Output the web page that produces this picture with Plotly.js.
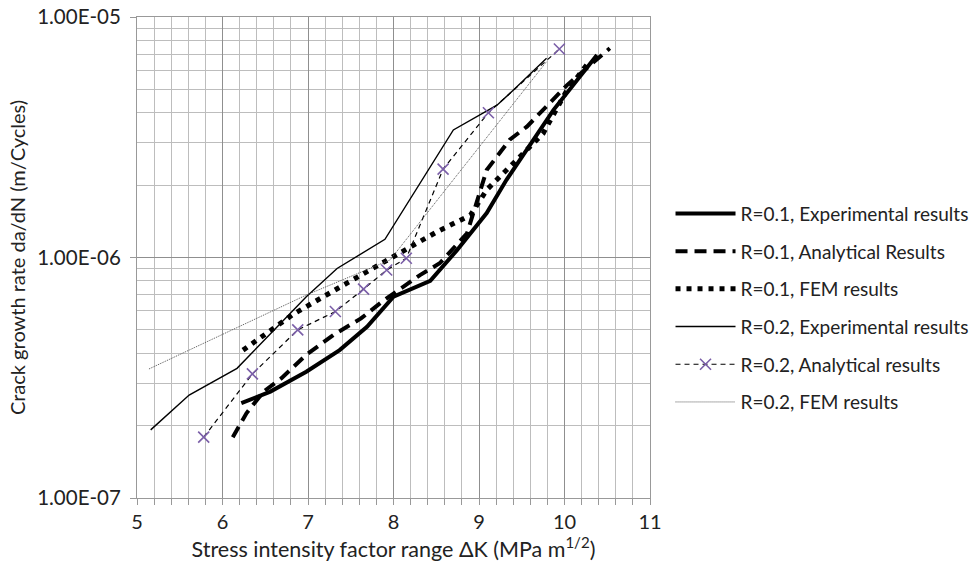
<!DOCTYPE html>
<html>
<head>
<meta charset="utf-8">
<script src="https://cdn.plot.ly/plotly-3.0.1.min.js"></script>
<style>html,body{margin:0;padding:0;background:#fff;}#chart{width:978px;height:569px;}</style>
</head>
<body>
<div id="chart"></div>
<script>
// R=0.1 Experimental results
const r1ExpX = [6.22, 6.56, 6.98, 7.37, 7.69, 8.0, 8.43, 8.74, 9.09, 9.32, 9.87, 10.38];
const r1ExpY = [2.48e-7, 2.77e-7, 3.35e-7, 4.12e-7, 5.15e-7, 6.87e-7, 8.0e-7, 1.07e-6, 1.53e-6, 2.10e-6, 4.1e-6, 6.95e-6];
// R=0.1 Analytical Results
const r1AnaX = [6.12, 6.28, 6.48, 6.69, 6.98, 7.30, 7.62, 7.89, 8.31, 8.54, 8.86, 9.09, 9.36, 9.56, 10.03, 10.53];
const r1AnaY = [1.79e-7, 2.25e-7, 2.77e-7, 3.15e-7, 3.94e-7, 4.77e-7, 5.58e-7, 6.65e-7, 8.45e-7, 9.46e-7, 1.26e-6, 2.31e-6, 3.09e-6, 3.50e-6, 5.21e-6, 7.41e-6];
// R=0.1 FEM results
const r1FemX = [6.24, 6.83, 7.47, 8.11, 8.51, 8.90, 9.09, 9.75, 10.02, 10.30];
const r1FemY = [4.12e-7, 5.82e-7, 7.88e-7, 1.06e-6, 1.28e-6, 1.50e-6, 1.91e-6, 3.28e-6, 4.9e-6, 6.6e-6];
// R=0.2 Experimental results
const r2ExpX = [5.16, 5.61, 6.17, 6.98, 7.34, 7.90, 8.70, 9.21, 9.40, 9.79];
const r2ExpY = [1.92e-7, 2.68e-7, 3.46e-7, 6.87e-7, 9.0e-7, 1.19e-6, 3.39e-6, 4.3e-6, 4.96e-6, 6.73e-6];
// R=0.2 Analytical results
const r2AnaX = [5.78, 6.35, 6.88, 7.32, 7.65, 7.92, 8.15, 8.58, 9.11, 9.94];
const r2AnaY = [1.79e-7, 3.28e-7, 5.0e-7, 5.96e-7, 7.39e-7, 8.87e-7, 9.93e-7, 2.33e-6, 4.0e-6, 7.36e-6];
// R=0.2 FEM results
const r2FemX = [5.14, 6.98, 7.96, 9.79];
const r2FemY = [3.44e-7, 6.98e-7, 9.77e-7, 6.52e-6];

const yTickVals = [1e-7, 1e-6, 1e-5];
const yTickText = ["1.00E-07", "1.00E-06", "1.00E-05"];
const xTickVals = [5, 6, 7, 8, 9, 10, 11];

const FONT = "Lato, 'Open Sans', sans-serif";

const traces = [
  {x: r1ExpX, y: r1ExpY, name: "R=0.1, Experimental results", mode: "lines",
   line: {color: "#000", width: 4}, legendgroup: "a"},
  {x: r1AnaX, y: r1AnaY, name: "R=0.1, Analytical Results", mode: "lines",
   line: {color: "#000", width: 4, dash: "12px,7px"}, legendgroup: "b"},
  {x: r1FemX, y: r1FemY, name: "R=0.1, FEM results", mode: "lines",
   line: {color: "#000", width: 5, dash: "5px,6px"}, legendgroup: "c"},
  {x: r2ExpX, y: r2ExpY, name: "R=0.2, Experimental results", mode: "lines",
   line: {color: "#000", width: 1.4}, legendgroup: "d"},
  {x: r2AnaX, y: r2AnaY, name: "R=0.2, Analytical results", mode: "lines+markers",
   line: {color: "#000", width: 1.2, dash: "5px,4px"},
   marker: {symbol: "x-thin", size: 11, color: "#7b5fa8", line: {width: 1.6, color: "#7b5fa8"}}, legendgroup: "e"},
  {x: r2FemX, y: r2FemY, name: "R=0.2, FEM results", mode: "lines",
   line: {color: "#555", width: 1, dash: "1px,1px"}, legendgroup: "f"}
];

const layout = {
  width: 978, height: 569,
  margin: {l: 137, r: 328, t: 17, b: 71},
  paper_bgcolor: "#fff", plot_bgcolor: "#fff",
  font: {family: FONT, size: 19, color: "#222"},
  showlegend: true,
  legend: {xref: "container", yref: "container", x: 0.6856, y: 0.658, xanchor: "left", yanchor: "top",
           traceorder: "grouped", tracegroupgap: 10, itemwidth: 60,
           font: {family: FONT, size: 19, color: "#222"}, bgcolor: "rgba(0,0,0,0)"},
  xaxis: {
    range: [5, 11], tickvals: xTickVals, ticks: "outside", ticklen: 6, tickcolor: "#999",
    showgrid: true, gridcolor: "#8f8f8f", gridwidth: 1,
    showline: true, linecolor: "#999", mirror: true, zeroline: false,
    tickfont: {family: FONT, size: 20, color: "#222"},
    minor: {dtick: 0.2, showgrid: true, gridcolor: "#bdbdbd", gridwidth: 1, ticks: "outside", ticklen: 6, tickcolor: "#999"},
    title: {text: "Stress intensity factor range ΔK (MPa m<sup>1/2</sup>)", font: {family: FONT, size: 21.5, color: "#222"}, standoff: 6}
  },
  yaxis: {
    type: "log", range: [-7, -5], tickvals: yTickVals, ticktext: yTickText,
    ticks: "outside", ticklen: 6, tickcolor: "#999", ticklabelstandoff: 5,
    showgrid: true, gridcolor: "#8f8f8f", gridwidth: 1,
    showline: true, linecolor: "#999", mirror: true, zeroline: false,
    tickfont: {family: FONT, size: 20.5, color: "#222"},
    minor: {dtick: "D1", showgrid: true, gridcolor: "#bdbdbd", gridwidth: 1},
    title: {text: "Crack growth rate da/dN (m/Cycles)", font: {family: FONT, size: 20, color: "#222"}, standoff: 6}
  }
};

Plotly.newPlot("chart", traces, layout, {displayModeBar: false, staticPlot: true});
</script>
</body>
</html>
